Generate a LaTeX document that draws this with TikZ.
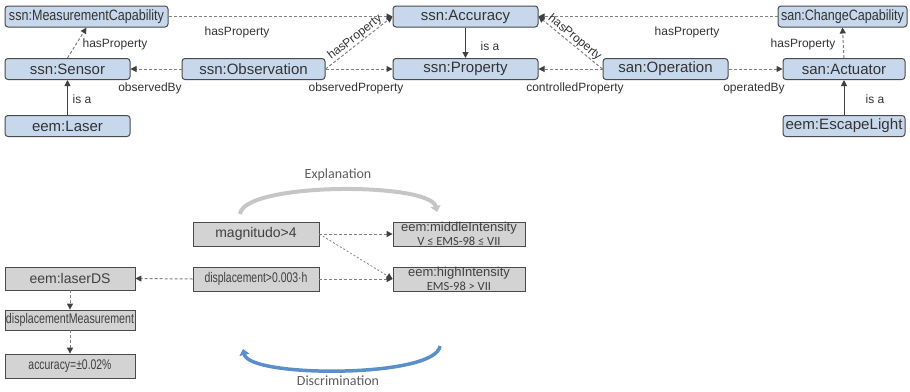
\documentclass[tikz,border=0pt]{standalone}
\usepackage{fontspec}
\setmainfont{Liberation Sans}
\newfontfamily\carl{Carlito}
\usetikzlibrary{arrows.meta,shadows}
\definecolor{tfill}{HTML}{C8D8EC}
\definecolor{bfill}{HTML}{D3D3D3}
\definecolor{bord}{HTML}{4A4A4A}
\definecolor{txt}{HTML}{333333}
\definecolor{txtb}{HTML}{404040}
\definecolor{arr}{HTML}{808080}
\definecolor{arrdark}{HTML}{404040}
\definecolor{dblue}{HTML}{5B8FCB}
\newcommand{\sqz}[2]{\resizebox{#1}{\height}{#2}}
\begin{document}
\begin{tikzpicture}[x=1pt,y=-1pt,
 tbox/.style={draw=bord, fill=tfill, rounded corners=3pt, line width=1pt, minimum height=21pt, inner sep=0pt, text=txt, font=\fontsize{15}{18}\selectfont},
 bbox/.style={draw=bord, fill=bfill, line width=0.8pt, minimum height=24pt, inner sep=0pt, text=txtb, font=\fontsize{14}{16}\selectfont, drop shadow={shadow xshift=1.2pt, shadow yshift=-1.2pt, fill=black!30}},
 lbl/.style={text=txt, font=\fontsize{12}{14}\selectfont, inner sep=0pt},
 dsh/.style={draw=arr, line width=1pt, dash pattern=on 3pt off 2pt, -{Triangle[length=6pt,width=6pt,color=arrdark]}},
 fdsh/.style={draw=arr, line width=0.8pt, dash pattern=on 2pt off 2pt, -{Triangle[length=6pt,width=6pt,color=arrdark]}},
 sol/.style={draw=arrdark, line width=1pt, -{Triangle[length=6pt,width=6pt]}},
 arclbl/.style={text=txtb!85, font=\carl\fontsize{14}{16}\selectfont, inner sep=0pt},
]
\useasboundingbox (0,0) rectangle (910,391);

% ---------- top ontology ----------
\node[tbox, minimum width=163pt] (mc) at (86.5,16.5) {\sqz{155pt}{ssn:MeasurementCapability}};
\node[tbox, minimum width=145pt] (acc) at (465.5,16.5) {ssn:Accuracy};
\node[tbox, minimum width=129pt] (chg) at (842.5,16.5) {\sqz{123pt}{san:ChangeCapability}};

\node[tbox, minimum width=125pt] (sensor) at (67.5,69) {ssn:Sensor};
\node[tbox, minimum width=143pt] (obs) at (253.5,69) {ssn:Observation};
\node[tbox, minimum width=145pt] (prop) at (465.5,69) {ssn:Property};
\node[tbox, minimum width=125pt] (op) at (665.5,69) {san:Operation};
\node[tbox, minimum width=122pt] (act) at (844,69) {san:Actuator};

\node[tbox, minimum width=125pt] (laser) at (67.5,126) {eem:Laser};
\node[tbox, minimum width=122pt] (esc) at (844,126) {\sqz{117pt}{eem:EscapeLight}};

\draw[dsh] (mc.east) -- (acc.west);
\node[lbl] (l1) at (237,32) {hasProperty};
\draw[dsh] (sensor.north) -- (mc.south);
\node[lbl] (l2) at (115,44) {hasProperty};
\draw[dsh] (obs.west) -- (sensor.east);
\node[lbl] (l3) at (150,88) {observedBy};
\draw[dsh] (obs.east) -- (prop.west);
\node[lbl] (l4) at (356,88) {observedProperty};
\draw[dsh] (obs.east) -- node[lbl, sloped, above=0.5pt, pos=0.5] (l5) {hasProperty} (acc.west);
\draw[sol] (laser.north) -- (sensor.south);
\node[lbl] (l6) at (82,99) {is a};
\draw[sol] (acc.south) -- (prop.north);
\node[lbl] (l7) at (490,46) {is a};
\draw[dsh] (chg.west) -- (acc.east);
\node[lbl] (l8) at (687,32) {hasProperty};
\draw[dsh] (op.west) -- node[lbl, sloped, above=0.5pt, pos=0.5] (l9) {hasProperty} (acc.east);
\draw[dsh] (op.west) -- (prop.east);
\node[lbl] (l10) at (575,88) {controlledProperty};
\draw[dsh] (op.east) -- (act.west);
\node[lbl] (l11) at (754,88) {operatedBy};
\draw[dsh] (act.north) -- (chg.south);
\node[lbl] (l12) at (803,44) {hasProperty};
\draw[sol] (esc.north) -- (act.south);
\node[lbl] (l13) at (875,99) {is a};

% ---------- bottom ----------
\node[bbox, minimum width=126pt] (mag) at (256,234) {magnitudo>4};
\node[bbox, minimum width=126pt] (disp) at (256,279) {\sqz{103pt}{displacement>0.003·h}};
\node[bbox, minimum width=132pt] (mid) at (459,234) {};
\node[text=txtb, font=\fontsize{13}{15}\selectfont, inner sep=0pt] (midA) at (459,228.5) {eem:middleIntensity};
\node[text=txtb, font=\carl\fontsize{12.5}{14}\selectfont, inner sep=0pt] (midB) at (459,241.5) {V ≤ EMS-98 ≤ VII};
\node[bbox, minimum width=132pt] (high) at (459,279) {};
\node[text=txtb, font=\fontsize{13}{15}\selectfont, inner sep=0pt] (highA) at (459,273.5) {eem:highIntensity};
\node[text=txtb, font=\carl\fontsize{12.5}{14}\selectfont, inner sep=0pt] (highB) at (459,286.5) {EMS-98 > VII};

\node[bbox, minimum width=130pt, minimum height=23pt] (lds) at (70,278.5) {eem:laserDS};
\node[bbox, minimum width=130pt, minimum height=20pt] (dm) at (70,320) {\sqz{128pt}{displacementMeasurement}};
\node[bbox, minimum width=130pt] (accu) at (70,366) {\sqz{83pt}{accuracy=±0.02\%}};

\draw[dsh] (mag.east) -- (mid.west);
\draw[fdsh] (mag.east) -- (high.west);
\draw[dsh] (disp.east) -- (high.west);
\draw[dsh] (disp.west) -- (lds.east);
\draw[dsh] (lds.south) -- (dm.north);
\draw[dsh] (dm.south) -- (accu.north);

% arcs
\coordinate (e1) at (240,214);
\coordinate (e2) at (437,212);
\draw[line width=4pt, draw=gray!45, -{Triangle[length=6pt,width=10pt]}] (e1) .. controls (244,182) and (430,182) .. (e2);
\node[arclbl] (expl) at (338,175) {Explanation};
\coordinate (d1) at (243,349);
\coordinate (d2) at (440,346);
\draw[line width=3.5pt, draw=dblue, {Triangle[length=6pt,width=10pt]}-] (d1) .. controls (250,378) and (436,378) .. (d2);
\node[arclbl] (disc) at (338,381) {Discrimination};
\end{tikzpicture}
\end{document}
